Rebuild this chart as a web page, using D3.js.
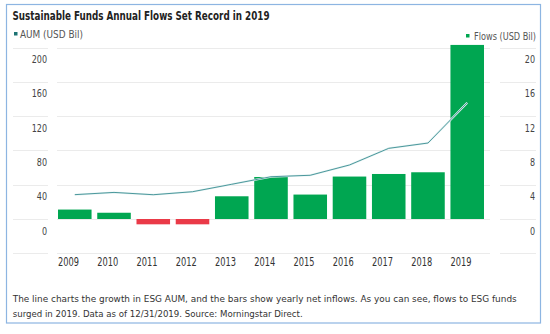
<!DOCTYPE html>
<html>
<head>
<meta charset="utf-8">
<script src="https://cdn.jsdelivr.net/npm/d3@7"></script>
<style>
  body { margin: 0; background: #fff; }
  svg text { font-family: "Liberation Sans Narrow", "DejaVu Sans Condensed", Roboto, sans-serif; font-stretch: condensed; }
</style>
</head>
<body>
<div id="chart"></div>
<script>
// data
const years = ["2009", "2010", "2011", "2012", "2013", "2014", "2015", "2016", "2017", "2018", "2019"];
const flows = [1.1, 0.73, -0.62, -0.62, 2.65, 4.9, 2.85, 4.95, 5.25, 5.45, 20.3];
const aum = [28.4, 31, 28.3, 31.8, 40.5, 49.3, 51, 63, 82.4, 88.6, 135.6];
const leftTicks = [0, 40, 80, 120, 160, 200];
const rightTicks = [0, 4, 8, 12, 16, 20];
const gridTicks = [-40, 0, 40, 80, 120, 160, 200];

const width = 550, height = 334;
const svg = d3.select("#chart").append("svg")
    .attr("width", width)
    .attr("height", height);

// frame
svg.append("rect")
    .attr("x", 6.5).attr("y", 4.5)
    .attr("width", 534).attr("height", 318.5)
    .attr("fill", "#fff")
    .attr("stroke", "#8db5e2")
    .attr("stroke-width", 1.2);

// scales
let x = d3.scaleBand().domain(years).range([58, 484]).paddingInner(0.145).paddingOuter(0);
let yL = d3.scaleLinear().domain([-40, 200]).range([253.3, 47.5]);
let yR = d3.scaleLinear().domain([-4, 20]).range([253.3, 47.5]);

// gridlines, drawn in three pieces like the original
const segments = [[13, 48], [57, 490], [500, 536]];
segments.forEach(s => {
    svg.append("g").selectAll("line")
        .data(gridTicks)
        .enter().append("line")
        .attr("x1", s[0]).attr("x2", s[1])
        .attr("y1", d => Math.round(yL(d)) + 0.5)
        .attr("y2", d => Math.round(yL(d)) + 0.5)
        .attr("stroke", "#ebebeb")
        .attr("stroke-width", 1);
});

// bars
svg.append("g").selectAll("rect")
    .data(years.map((y, i) => ({year: y, v: flows[i]})))
    .enter().append("rect")
    .attr("x", d => x(d.year))
    .attr("width", x.bandwidth())
    .attr("y", d => yR(Math.max(0, d.v)))
    .attr("height", d => Math.abs(yR(d.v) - yR(0)))
    .attr("fill", d => d.v < 0 ? "#ea3a48" : "#00a651");

// AUM line
let line = d3.line()
    .x((d, i) => x(years[i]) + x.bandwidth() / 2)
    .y(d => yL(d));

svg.append("path")
    .datum(aum)
    .attr("d", line)
    .attr("fill", "none")
    .attr("stroke", "#e4f2f2")
    .attr("stroke-width", 2);

svg.append("path")
    .datum(aum)
    .attr("d", line)
    .attr("fill", "none")
    .attr("stroke", "#3a8d92")
    .attr("stroke-width", 0.9);

// axes
let leftAxis = svg.append("g")
    .attr("transform", "translate(47,0)")
    .call(d3.axisLeft(yL).tickValues(leftTicks).tickSize(0).tickPadding(0));

let rightAxis = svg.append("g")
    .attr("transform", "translate(535,0)")
    .call(d3.axisLeft(yR).tickValues(rightTicks).tickSize(0).tickPadding(0));

[leftAxis, rightAxis].forEach(a => {
    a.select(".domain").remove();
    a.selectAll("text")
        .attr("dy", "15")
        .attr("fill", "#444")
        .attr("textLength", function() { return this.textContent.length * 5.1; })
        .attr("lengthAdjust", "spacingAndGlyphs")
        .style("font-size", "11px");
});

let xAxis = svg.append("g")
    .attr("transform", "translate(0,257)")
    .call(d3.axisBottom(x).tickSize(0).tickPadding(0));
xAxis.select(".domain").remove();
xAxis.selectAll("text")
    .attr("x", -x.bandwidth() / 2)
    .attr("dy", "9")
    .attr("text-anchor", "start")
    .attr("fill", "#333")
    .attr("textLength", 21)
    .attr("lengthAdjust", "spacingAndGlyphs")
    .style("font-size", "11.5px");

// title
svg.append("text")
    .attr("x", 12.5).attr("y", 20)
    .attr("textLength", 257)
    .attr("lengthAdjust", "spacingAndGlyphs")
    .attr("fill", "#222")
    .style("font-size", "13px")
    .style("font-weight", "bold")
    .text("Sustainable Funds Annual Flows Set Record in 2019");

// legends
svg.append("rect")
    .attr("x", 14).attr("y", 32).attr("width", 3.5).attr("height", 3.5)
    .attr("fill", "#1d7373");
svg.append("text")
    .attr("x", 20).attr("y", 37.8)
    .attr("textLength", 63)
    .attr("lengthAdjust", "spacingAndGlyphs")
    .attr("fill", "#555")
    .style("font-size", "10px")
    .text("AUM (USD Bil)");

svg.append("rect")
    .attr("x", 466).attr("y", 34).attr("width", 3.5).attr("height", 3.5)
    .attr("fill", "#00a651");
svg.append("text")
    .attr("x", 474).attr("y", 39.8)
    .attr("textLength", 62)
    .attr("lengthAdjust", "spacingAndGlyphs")
    .attr("fill", "#555")
    .style("font-size", "10px")
    .text("Flows (USD Bil)");

// footnote
const notes = [
    ["The line charts the growth in ESG AUM, and the bars show yearly net inflows. As you can see, flows to ESG funds", 302, 504],
    ["surged in 2019. Data as of 12/31/2019. Source: Morningstar Direct.", 316.5, 290]
];
svg.append("g").selectAll("text")
    .data(notes)
    .enter().append("text")
    .attr("x", 12.7)
    .attr("y", d => d[1])
    .attr("textLength", d => d[2])
    .attr("lengthAdjust", "spacingAndGlyphs")
    .attr("fill", "#333")
    .style("font-size", "9.5px")
    .text(d => d[0]);
</script>
</body>
</html>
